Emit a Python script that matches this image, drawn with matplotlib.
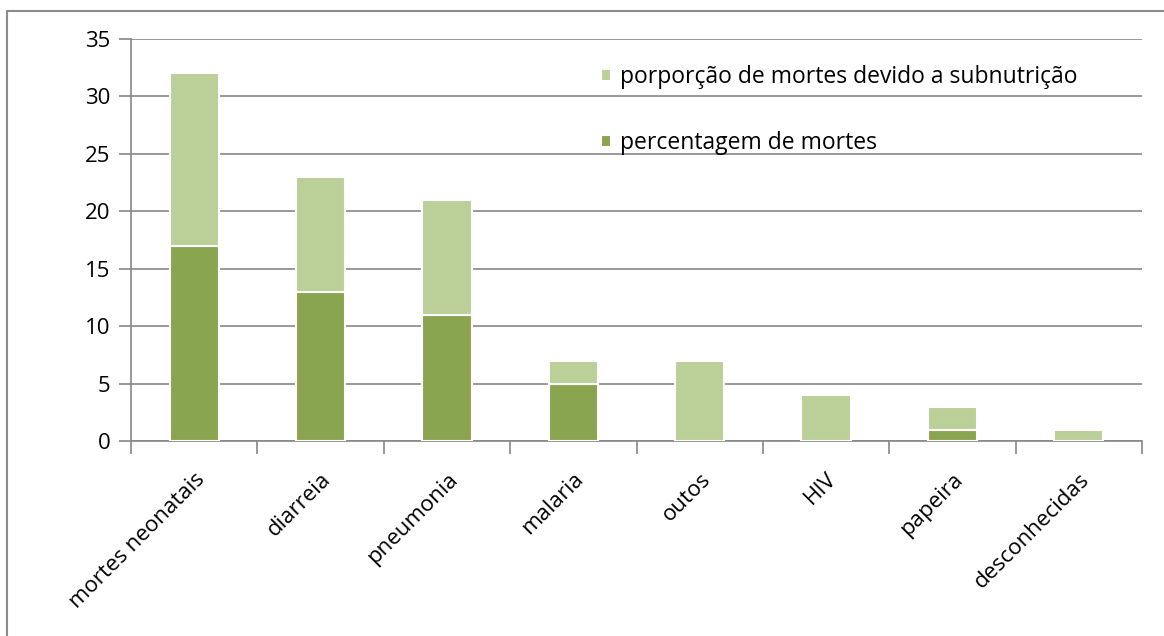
import matplotlib.pyplot as plt
import numpy as np
from matplotlib.patches import Rectangle

plt.rcParams['font.family'] = ['Open Sans', 'DejaVu Sans']

categories = ["mortes neonatais", "diarreia", "pneumonia", "malaria",
              "outos", "HIV", "papeira", "desconhecidas"]
percentagem = [17, 13, 11, 5, 0, 0, 1, 0]
subnutricao = [15, 10, 10, 2, 7, 4, 2, 1]

dark = "#8aa54f"
light = "#bbcf99"
grid = "#878787"

fig = plt.figure(figsize=(11.64, 6.36), dpi=100)
ax = fig.add_axes([131 / 1164, 1 - 441 / 636, (1142 - 131) / 1164, (441 - 39) / 636])

x = np.arange(len(categories))
b1 = ax.bar(x, percentagem, width=0.39, color=dark, edgecolor="white",
            linewidth=1.5, label="percentagem de mortes", zorder=3)
b2 = ax.bar(x, subnutricao, width=0.39, bottom=percentagem, color=light,
            edgecolor="white", linewidth=1.5,
            label="porporção de mortes devido a subnutrição", zorder=3)

ax.set_xlim(-0.5, len(categories) - 0.5)
ax.set_ylim(0, 35)
ax.set_yticks(range(0, 36, 5))
ax.yaxis.grid(True, color=grid, linewidth=1.2, zorder=0)
ax.tick_params(axis="y", length=9, width=1.2, color=grid, labelsize=16, pad=6)

ax.set_xticks(np.arange(-0.5, len(categories)), minor=False)
ax.set_xticklabels([])
ax.set_xticks(x, minor=True)
ax.set_xticklabels(categories, minor=True, rotation=45, ha="right",
                   rotation_mode="anchor", fontsize=16)
ax.tick_params(axis="x", which="major", length=9, width=1.2, color=grid, direction="out")
ax.tick_params(axis="x", which="minor", length=0, pad=20)

for side in ["top", "right"]:
    ax.spines[side].set_visible(False)
for side in ["left", "bottom"]:
    ax.spines[side].set_color(grid)
    ax.spines[side].set_linewidth(1.2)

ax.legend(handles=[b2, b1], loc="upper left", bbox_to_anchor=(0.456, 0.958),
          frameon=False, fontsize=16.5, handlelength=0.45, handleheight=0.45,
          handletextpad=0.35, labelspacing=1.85, borderaxespad=0)

fig.add_artist(Rectangle((7 / 1164, -0.1), 1.2, 1.1 - 11 / 636,
                         transform=fig.transFigure, fill=False,
                         edgecolor="#8c8c8c", linewidth=1.5))

fig.savefig("out.png", dpi=100)
